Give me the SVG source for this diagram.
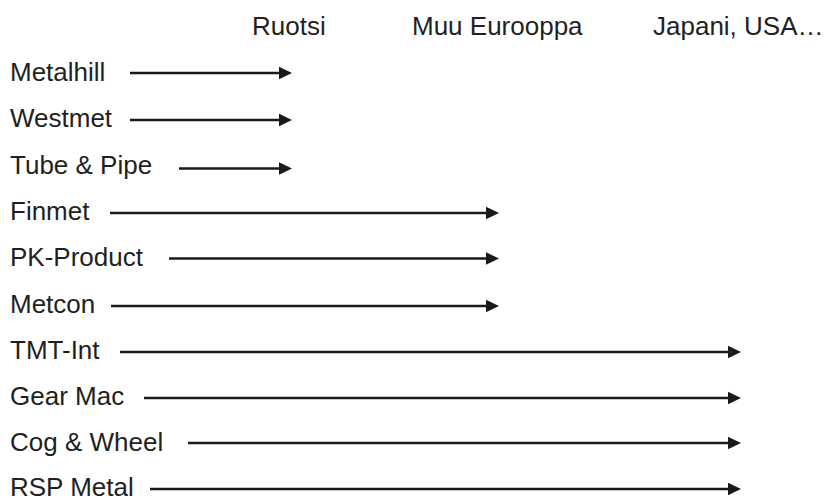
<svg xmlns="http://www.w3.org/2000/svg" width="826" height="498" viewBox="0 0 826 498">
  <style>
    text { font-family: "Liberation Sans", Arial, sans-serif; font-size: 26px; fill: #231f20; }
    .flow { stroke: #1a1a1a; stroke-width: 2.3; fill: none; marker-end: url(#head); }
  </style>
  <defs>
    <marker id="head" markerUnits="userSpaceOnUse" markerWidth="13" markerHeight="13" refX="0" refY="6.25" orient="auto" overflow="visible">
      <path d="M0,0 L13,6.25 L0,12.5 Z" fill="#1a1a1a"/>
    </marker>
  </defs>
  <rect width="826" height="498" fill="#ffffff"/>

  <!-- column headings -->
  <g id="headings">
    <text x="252" y="35">Ruotsi</text>
    <text x="412" y="35">Muu Eurooppa</text>
    <text x="653" y="35">Japani, USA…</text>
  </g>

  <!-- companies -->
  <g id="metalhill"><text x="10" y="81">Metalhill</text></g>
  <g id="westmet"><text x="10" y="127">Westmet</text></g>
  <g id="tube-pipe"><text x="10" y="174">Tube &amp; Pipe</text></g>
  <g id="finmet"><text x="10" y="220">Finmet</text></g>
  <g id="pk-product"><text x="10" y="266">PK-Product</text></g>
  <g id="metcon"><text x="10" y="313">Metcon</text></g>
  <g id="tmt-int"><text x="10" y="359">TMT-Int</text></g>
  <g id="gear-mac"><text x="10" y="405">Gear Mac</text></g>
  <g id="cog-wheel"><text x="10" y="451">Cog &amp; Wheel</text></g>
  <g id="rsp-metal"><text x="10" y="496">RSP Metal</text></g>

  <!-- expansion arrows, ending at the target market column -->
  <g id="connectors">
    <line class="flow" x1="130" y1="73" x2="279" y2="73"/>
    <line class="flow" x1="130" y1="120" x2="279" y2="120"/>
    <line class="flow" x1="179" y1="168.5" x2="279" y2="168.5"/>
    <line class="flow" x1="110" y1="213" x2="486" y2="213"/>
    <line class="flow" x1="169" y1="258.5" x2="486" y2="258.5"/>
    <line class="flow" x1="111" y1="306" x2="486" y2="306"/>
    <line class="flow" x1="120" y1="352" x2="728" y2="352"/>
    <line class="flow" x1="144" y1="398" x2="728" y2="398"/>
    <line class="flow" x1="188" y1="443" x2="728" y2="443"/>
    <line class="flow" x1="150" y1="489" x2="728" y2="489"/>
  </g>
</svg>
